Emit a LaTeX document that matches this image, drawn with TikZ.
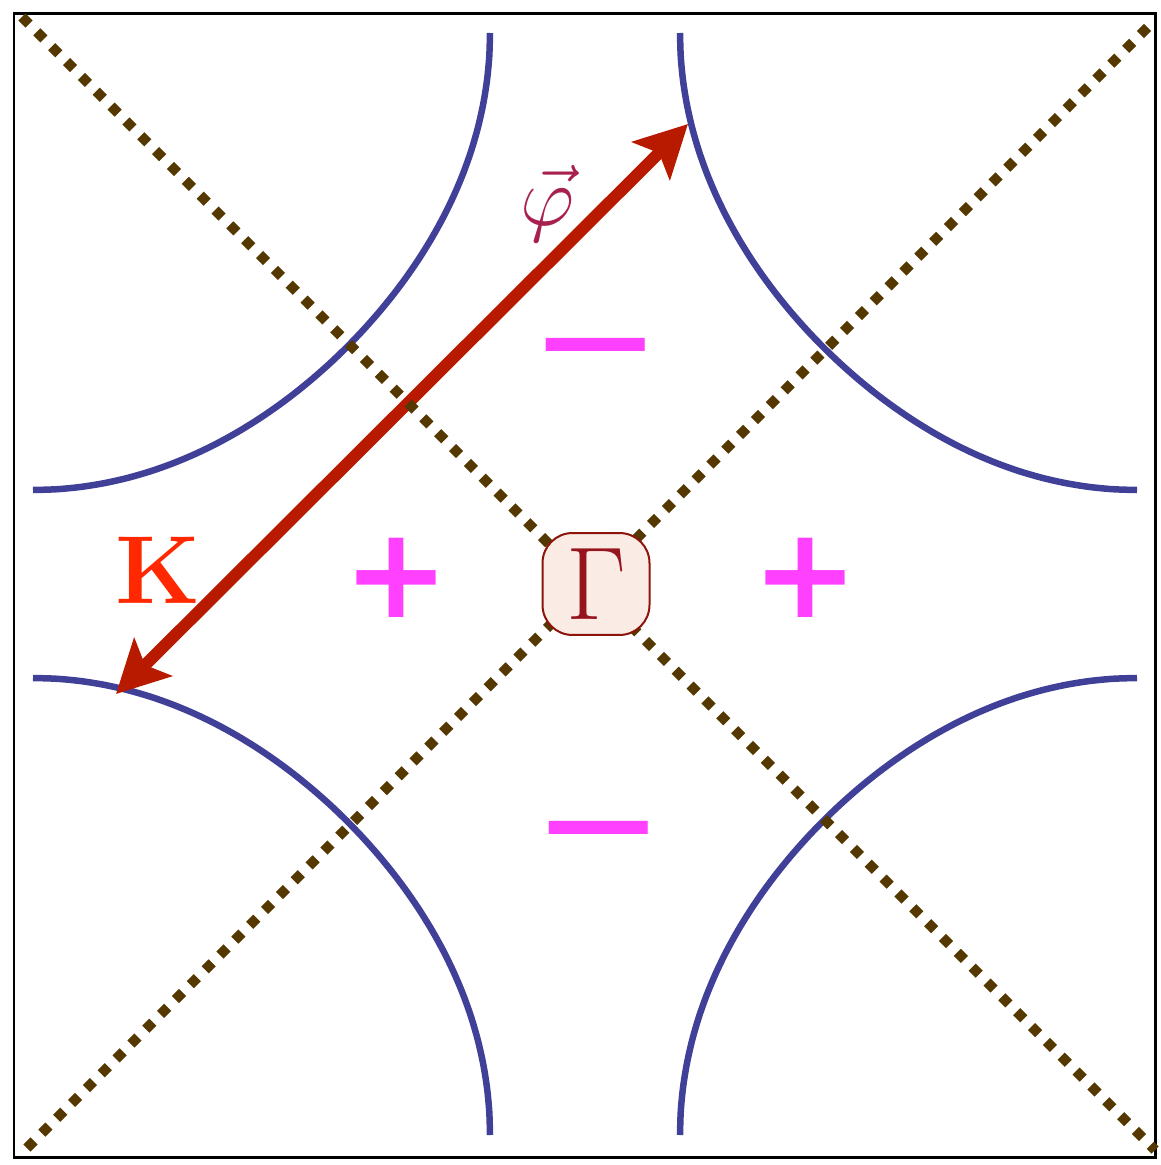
\RequirePackage{fix-cm}
\documentclass[tikz,border=0pt]{standalone}
\usepackage{fontspec}
\newfontfamily\signfont{DejaVu Sans}
\usepackage{tikz}
\usetikzlibrary{arrows.meta, positioning}
\definecolor{fsblue}{RGB}{64,64,152}
\definecolor{diagbrown}{RGB}{85,55,0}
\definecolor{signpink}{RGB}{255,64,255}
\definecolor{arrowred}{RGB}{184,26,0}
\definecolor{klabel}{RGB}{255,40,0}
\definecolor{philabel}{RGB}{168,32,80}
\definecolor{gammatext}{RGB}{150,20,30}
\definecolor{gammafill}{RGB}{250,235,228}
\definecolor{gammaedge}{RGB}{140,20,10}

\begin{document}
\begin{tikzpicture}[x=0.02cm, y=-0.02cm, >={Stealth[length=1.04cm, width=1.06cm, inset=0.22cm]},
    fermi/.style={fsblue, line width=0.13cm},
    diag/.style={diagbrown, line width=0.2cm, dash pattern=on 0.2cm off 0.22cm},
    plussign/.style={signpink, inner sep=0pt, font=\signfont\bfseries\fontsize{72}{72}\selectfont},
    minussign/.style={signpink, inner sep=0pt, font=\signfont\fontsize{90}{90}\selectfont}]
      \useasboundingbox (0,0) rectangle (1160,1165);
      \draw[line width=0.06cm] (14,14) rectangle (1155,1157);

      % pockets round the four corners
      \foreach \cx/\cy/\sx/\sy in {33/33/1/1, 1137/33/-1/1, 33/1135/1/-1, 1137/1135/-1/-1}
        \draw[fermi] plot[domain=0:90, samples=31, smooth]
          ({\cx+\sx*(457-13*(sin(2*\x))^2)*cos(\x)}, {\cy+\sy*(457-13*(sin(2*\x))^2)*sin(\x)});

      \coordinate (kend) at (116,694);
      \coordinate (phiend) at (688,124);
      \draw[arrowred, line width=0.24cm, <->] (kend) -- (phiend);

      % diagonals
      \draw[diag] (22,17) -- (1155,1150);
      \draw[diag] (27,1148) -- (1150,25);

      \node[text=klabel, font=\bfseries\fontsize{55}{55}\selectfont] (klbl) at (158,570) {K};
      \node[text=philabel, font=\fontsize{48}{48}\selectfont] (philbl) at (548,204) {$\vec{\varphi}$};

      \node[minussign] (minustop) at (596,366) {−};
      \node[plussign] (plusleft) at (396,578) {+};
      \node[plussign] (plusright) at (805,578) {+};
      \node[minussign] (minusbot) at (599,849) {−};

      \node[draw=gammaedge, line width=0.04cm, fill=gammafill, rounded corners=0.6cm,
            text=gammatext, minimum width=2.14cm, minimum height=2.04cm, inner sep=0pt,
            font=\fontsize{59}{59}\selectfont] (gamma) at (596,584) {$\Gamma$};
    \end{tikzpicture}
\end{document}
